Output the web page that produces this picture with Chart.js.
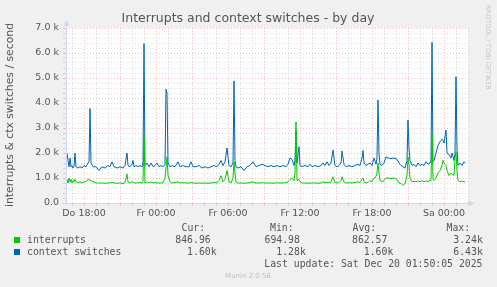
<!DOCTYPE html>
<html lang="de">
<head>
  <meta charset="UTF-8">
  <title>Interrupts and context switches - by day</title>
  <script src="https://cdn.jsdelivr.net/npm/chart.js"></script>
  <style>
    body { margin: 0; padding: 0; background: #f0f0f0; }
    #chart { display: block; }
  </style>
</head>
<body>
  <canvas id="chart" width="497" height="287"></canvas>
  <script>
    // time axis: 5-minute steps since Do 16:30 (one step per pixel, like rrdtool)
    const slots = [
      1, 2, 3, 4, 5, 6, 7, 8, 9, 10, 12, 14, 16, 18, 20, 22, 23, 24, 25, 27,
      30, 33, 36, 39, 42, 44, 46, 48, 51, 54, 57, 59, 61, 62, 64, 66, 67, 68, 70, 72,
      74, 76, 77, 78, 79, 81, 83, 85, 87, 89, 91, 93, 95, 97, 99, 100, 101, 102, 104, 106,
      109, 112, 114, 117, 120, 123, 125, 127, 130, 133, 136, 139, 142, 145, 148, 151, 153, 155, 157, 159,
      161, 163, 165, 167, 168, 169, 170, 172, 175, 178, 181, 184, 187, 190, 193, 196, 199, 202, 205, 208,
      211, 214, 217, 220, 222, 224, 226, 228, 229, 230, 231, 233, 234, 236, 239, 242, 244, 246, 249, 252,
      255, 257, 259, 261, 263, 265, 267, 269, 271, 273, 275, 276, 278, 280, 283, 286, 289, 292, 294, 296,
      297, 298, 300, 302, 304, 306, 308, 310, 311, 312, 313, 314, 316, 318, 320, 322, 325, 328, 331, 333,
      335, 337, 339, 341, 342, 343, 344, 346, 348, 350, 352, 354, 356, 358, 360, 362, 364, 365, 366, 367,
      368, 370, 372, 374, 376, 377, 378, 380, 381, 383, 385, 386, 388, 389, 390, 391, 392, 394, 396, 398,
      399
    ];
    const interrupts = [
      950, 800, 1000, 850, 950, 800, 900, 850, 950, 850, 800, 850, 800, 850, 850, 950, 950, 900, 900, 850,
      800, 800, 800, 790, 800, 800, 830, 800, 790, 800, 780, 820, 1160, 850, 800, 850, 850, 800, 810, 800,
      820, 800, 850, 2720, 800, 850, 800, 850, 800, 820, 800, 800, 800, 820, 1000, 1400, 1850, 1100, 850, 800,
      820, 850, 800, 810, 800, 800, 820, 800, 790, 800, 790, 800, 790, 800, 820, 800, 900, 1100, 850, 950,
      1300, 850, 800, 1000, 1650, 1200, 850, 800, 800, 790, 800, 820, 850, 800, 800, 810, 800, 800, 800, 790,
      810, 800, 800, 820, 850, 950, 1000, 900, 1200, 3240, 900, 950, 850, 800, 800, 790, 800, 800, 800, 790,
      800, 850, 810, 820, 810, 850, 1050, 820, 800, 820, 900, 1050, 850, 800, 810, 800, 820, 850, 820, 950,
      1000, 850, 800, 820, 900, 850, 1000, 1050, 1200, 1600, 1200, 900, 850, 900, 1000, 1000, 980, 1000, 950, 800,
      780, 700, 770, 1100, 1850, 1500, 1000, 850, 870, 850, 880, 850, 900, 850, 880, 860, 900, 900, 2800, 950,
      900, 1000, 1200, 1300, 1500, 1700, 1600, 1500, 1300, 1100, 1200, 1150, 1100, 1800, 2050, 1300, 900, 850, 880, 850,
      847
    ];
    const contextSwitches = [
      2000, 1700, 1450, 1800, 1450, 1500, 1400, 1450, 2000, 1450, 1400, 1450, 1400, 1500, 1450, 1600, 1650, 3780, 1600, 1450,
      1450, 1300, 1450, 1400, 1500, 1450, 1650, 1450, 1400, 1450, 1400, 1500, 2000, 1500, 1450, 1550, 1700, 1450, 1500, 1450,
      1500, 1450, 1600, 6380, 1500, 1600, 1450, 1600, 1450, 1500, 1600, 1450, 1500, 1450, 1550, 4550, 4400, 1600, 1450, 1500,
      1450, 1650, 1450, 1500, 1450, 1450, 1650, 1450, 1450, 1500, 1400, 1450, 1400, 1450, 1500, 1450, 1550, 1700, 1500, 1650,
      2200, 1500, 1450, 1600, 4880, 1700, 1450, 1400, 1450, 1300, 1450, 1500, 1650, 1450, 1500, 1550, 1500, 1450, 1500, 1450,
      1500, 1450, 1500, 1450, 1550, 1800, 1750, 1500, 1700, 2900, 1600, 2250, 1500, 1450, 1500, 1450, 1550, 1450, 1500, 1450,
      1500, 1600, 1500, 1650, 1500, 1600, 2120, 1500, 1450, 1500, 1600, 2080, 1550, 1450, 1500, 1450, 1500, 1550, 1500, 1800,
      2100, 1600, 1500, 1550, 1600, 1500, 1800, 1550, 1800, 4120, 2000, 1550, 1500, 1600, 1850, 1800, 1780, 1800, 1750, 1600,
      1500, 1450, 1400, 1700, 3320, 2200, 1700, 1500, 1550, 1450, 1600, 1500, 1550, 1500, 1650, 1550, 1600, 1700, 6430, 1650,
      1700, 2000, 2300, 2450, 2550, 2500, 2400, 2920, 2000, 1950, 1800, 2000, 1700, 2000, 5050, 2200, 1500, 1600, 1500, 1650,
      1600
    ];

    const xTickSlots = [18, 90, 162, 234, 306, 378];
    const xTickLabels = ['Do 18:00', 'Fr 00:00', 'Fr 06:00', 'Fr 12:00', 'Fr 18:00', 'Sa 00:00'];
    const yTickLabels = ['0.0', '1.0 k', '2.0 k', '3.0 k', '4.0 k', '5.0 k', '6.0 k', '7.0 k'];

    const seriesNames = ['interrupts', 'context switches'];
    const seriesColors = ['#00cc00', '#0066b3'];
    const legendCur = ['846.96 ', '  1.60k'];
    const legendMin = ['694.98 ', '  1.28k'];
    const legendAvg = ['862.57 ', '  1.60k'];
    const legendMax = ['  3.24k', '  6.43k'];

    const TXT = '#555';
    const SANS = '"DejaVu Sans", sans-serif';
    const MONO = '"DejaVu Sans Mono", monospace';

    const munin = {
      id: 'munin',
      beforeDraw(c) {
        const { ctx, chartArea: a } = c;
        ctx.save();
        ctx.fillStyle = '#f0f0f0';
        ctx.fillRect(0, 0, c.width, c.height);
        ctx.fillStyle = '#ffffff';
        ctx.fillRect(a.left, a.top, a.right - a.left, a.bottom - a.top);
        ctx.restore();
      },
      afterDraw(c) {
        const { ctx, chartArea: a } = c;
        ctx.save();
        // axes with arrows
        ctx.strokeStyle = '#cfd6f8';
        ctx.fillStyle = '#cfd6f8';
        ctx.lineWidth = 1;
        ctx.beginPath();
        ctx.moveTo(a.left + 0.5, a.bottom + 1);
        ctx.lineTo(a.left + 0.5, a.top - 4);
        ctx.moveTo(a.left - 2, a.bottom + 0.5);
        ctx.lineTo(a.right + 2, a.bottom + 0.5);
        ctx.stroke();
        ctx.beginPath();
        ctx.moveTo(a.left - 2, a.top - 2);
        ctx.lineTo(a.left + 3, a.top - 2);
        ctx.lineTo(a.left + 0.5, a.top - 8);
        ctx.fill();
        ctx.beginPath();
        ctx.moveTo(a.right + 1, a.bottom - 2);
        ctx.lineTo(a.right + 1, a.bottom + 3);
        ctx.lineTo(a.right + 7, a.bottom + 0.5);
        ctx.fill();

        // title
        ctx.fillStyle = TXT;
        ctx.font = '12.5px ' + SANS;
        ctx.textAlign = 'center';
        ctx.textBaseline = 'middle';
        ctx.fillText('Interrupts and context switches - by day', 248, 19);

        // vertical axis title
        ctx.save();
        ctx.translate(10, 115);
        ctx.rotate(-Math.PI / 2);
        ctx.font = '10.8px ' + SANS;
        ctx.fillText('interrupts & ctx switches / second', 0, 0);
        ctx.restore();

        // watermark
        ctx.save();
        ctx.translate(488, 5);
        ctx.rotate(Math.PI / 2);
        ctx.fillStyle = '#c4c4c4';
        ctx.font = '6.6px ' + SANS;
        ctx.textAlign = 'left';
        ctx.fillText('RRDTOOL / TOBI OETIKER', 0, 0);
        ctx.restore();

        // legend
        ctx.font = '9.8px ' + MONO;
        ctx.textAlign = 'left';
        ctx.fillStyle = TXT;
        ctx.fillText('Cur:', 181.5, 228);
        ctx.fillText('Min:', 270, 228);
        ctx.fillText('Avg:', 352.5, 228);
        ctx.fillText('Max:', 446.5, 228);
        seriesNames.forEach((name, i) => {
          const y = 240 + i * 12;
          ctx.fillStyle = seriesColors[i];
          ctx.fillRect(14, y - 3, 6, 6);
          ctx.fillStyle = TXT;
          ctx.fillText(name, 27, y);
          ctx.fillText(legendCur[i], 175.3, y);
          ctx.fillText(legendMin[i], 264.5, y);
          ctx.fillText(legendAvg[i], 352, y);
          ctx.fillText(legendMax[i], 441.5, y);
        });
        ctx.textAlign = 'right';
        ctx.fillText('Last update: Sat Dec 20 01:50:05 2025', 482.5, 264);

        ctx.textAlign = 'center';
        ctx.fillStyle = '#c0c0c0';
        ctx.font = '7px ' + SANS;
        ctx.fillText('Munin 2.0.56', 248, 276);
        ctx.restore();
      }
    };

    const isMajorX = v => (v - 18) % 36 === 0;
    const isMajorY = v => v % 1000 === 0;
    const MAJOR = 'rgba(235,130,130,0.5)';
    const MINOR = 'rgba(180,180,180,0.45)';

    new Chart(document.getElementById('chart'), {
      type: 'line',
      data: {
        datasets: [
          { label: seriesNames[0], data: slots.map((s, i) => ({ x: s, y: interrupts[i] })),
            borderColor: seriesColors[0], borderWidth: 1, pointRadius: 0, tension: 0, fill: false },
          { label: seriesNames[1], data: slots.map((s, i) => ({ x: s, y: contextSwitches[i] })),
            borderColor: seriesColors[1], borderWidth: 1, pointRadius: 0, tension: 0, fill: false }
        ]
      },
      options: {
        responsive: false,
        animation: false,
        devicePixelRatio: 1,
        layout: { padding: { left: 0, top: 28, right: 29, bottom: 0 } },
        plugins: { legend: { display: false }, tooltip: { enabled: false }, title: { display: false } },
        scales: {
          x: {
            type: 'linear', min: 0, max: 402,
            afterBuildTicks: s => { s.ticks = []; for (let v = 6; v <= 402; v += 12) s.ticks.push({ value: v }); },
            afterFit: s => { s.height = 84; },
            ticks: {
              autoSkip: false, maxRotation: 0, padding: 2, color: TXT,
              font: { family: SANS, size: 9.5 },
              callback: v => { const k = xTickSlots.indexOf(v); return k >= 0 ? xTickLabels[k] : ''; }
            },
            grid: {
              color: c => isMajorX(c.tick.value) ? MAJOR : MINOR,
              tickColor: c => isMajorX(c.tick.value) ? MAJOR : MINOR,
              tickLength: 3, lineWidth: 1
            },
            border: { display: false, dash: [1, 2] }
          },
          y: {
            min: 0, max: 7000,
            afterBuildTicks: s => { s.ticks = []; for (let v = 0; v <= 7000; v += 200) s.ticks.push({ value: v }); },
            afterFit: s => { s.width = 66; },
            ticks: {
              autoSkip: false, padding: 4, color: TXT,
              font: { family: SANS, size: 9.5 },
              callback: v => isMajorY(v) ? yTickLabels[v / 1000] : ''
            },
            grid: {
              color: c => isMajorY(c.tick.value) ? MAJOR : MINOR,
              tickColor: c => isMajorY(c.tick.value) ? MAJOR : MINOR,
              tickLength: 3, lineWidth: 1
            },
            border: { display: false, dash: [1, 2] }
          }
        }
      },
      plugins: [munin]
    });
  </script>
</body>
</html>
